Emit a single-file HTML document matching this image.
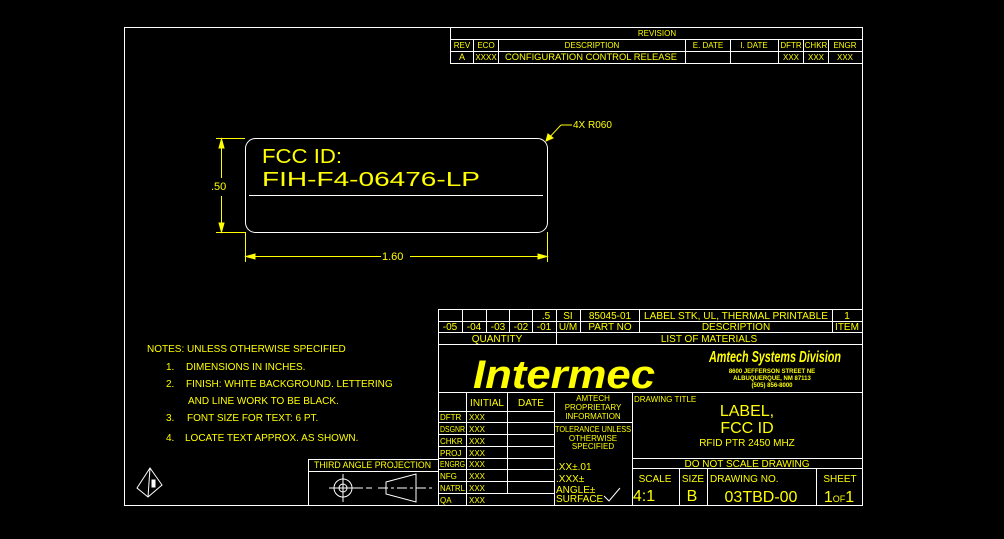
<!DOCTYPE html>
<html><head><meta charset="utf-8"><style>
html,body{margin:0;padding:0;background:#000;}
svg{display:block;}
text{font-family:"Liberation Sans Narrow","Liberation Sans",sans-serif;fill:#ffff00;}
</style></head><body>
<svg width="1004" height="539" viewBox="0 0 1004 539" xmlns="http://www.w3.org/2000/svg">
<rect width="1004" height="539" fill="#000"/>
<g stroke="#fff" stroke-width="1" fill="none">
<rect x="124.5" y="27.5" width="738" height="478"/>
<line x1="450.5" y1="27" x2="450.5" y2="63"/>
<line x1="450" y1="39.5" x2="862" y2="39.5"/>
<line x1="450" y1="51.5" x2="862" y2="51.5"/>
<line x1="450" y1="63.5" x2="862" y2="63.5"/>
<line x1="473.5" y1="39" x2="473.5" y2="63"/>
<line x1="498.5" y1="39" x2="498.5" y2="63"/>
<line x1="685.5" y1="39" x2="685.5" y2="63"/>
<line x1="730.5" y1="39" x2="730.5" y2="63"/>
<line x1="778.5" y1="39" x2="778.5" y2="63"/>
<line x1="803.5" y1="39" x2="803.5" y2="63"/>
<line x1="828.5" y1="39" x2="828.5" y2="63"/>
<line x1="438.5" y1="309" x2="438.5" y2="506"/>
<line x1="438" y1="309.5" x2="862" y2="309.5"/>
<line x1="438" y1="321.5" x2="862" y2="321.5"/>
<line x1="438" y1="332.5" x2="862" y2="332.5"/>
<line x1="438" y1="344.5" x2="862" y2="344.5"/>
<line x1="462.5" y1="309" x2="462.5" y2="332"/>
<line x1="486.5" y1="309" x2="486.5" y2="332"/>
<line x1="509.5" y1="309" x2="509.5" y2="332"/>
<line x1="532.5" y1="309" x2="532.5" y2="332"/>
<line x1="556.5" y1="309" x2="556.5" y2="344"/>
<line x1="580.5" y1="309" x2="580.5" y2="332"/>
<line x1="639.5" y1="309" x2="639.5" y2="332"/>
<line x1="832.5" y1="309" x2="832.5" y2="332"/>
<line x1="438" y1="392.5" x2="862" y2="392.5"/>
<line x1="466.5" y1="392" x2="466.5" y2="506"/>
<line x1="507.5" y1="392" x2="507.5" y2="493"/>
<line x1="554.5" y1="392" x2="554.5" y2="506"/>
<line x1="632.5" y1="392" x2="632.5" y2="506"/>
<line x1="438" y1="411.5" x2="554" y2="411.5"/>
<line x1="438" y1="422.5" x2="554" y2="422.5"/>
<line x1="438" y1="434.5" x2="554" y2="434.5"/>
<line x1="438" y1="446.5" x2="554" y2="446.5"/>
<line x1="438" y1="458.5" x2="554" y2="458.5"/>
<line x1="438" y1="469.5" x2="554" y2="469.5"/>
<line x1="438" y1="481.5" x2="554" y2="481.5"/>
<line x1="438" y1="493.5" x2="554" y2="493.5"/>
<line x1="554" y1="422.5" x2="632" y2="422.5"/>
<line x1="632" y1="458.5" x2="862" y2="458.5"/>
<line x1="632" y1="468.5" x2="862" y2="468.5"/>
<line x1="679.5" y1="468" x2="679.5" y2="506"/>
<line x1="707.5" y1="468" x2="707.5" y2="506"/>
<line x1="816.5" y1="468" x2="816.5" y2="506"/>
<rect x="308.5" y="459.5" width="130" height="46"/>
<line x1="308" y1="471.5" x2="438" y2="471.5"/>
<circle cx="343" cy="488" r="9"/>
<circle cx="343" cy="488" r="4"/>
<line x1="329" y1="488" x2="357" y2="488"/>
<line x1="343" y1="474" x2="343" y2="502"/>
<line x1="357" y1="488" x2="375" y2="488" stroke-dasharray="6 3"/>
<polygon points="386,482 416,474 416,502 386,494"/>
<line x1="378" y1="488" x2="432" y2="488" stroke-dasharray="10 3 3 3"/>
<polygon points="137,488 150,468 162,485 148,497"/>
<line x1="150" y1="468" x2="148" y2="497"/>
<rect x="152" y="480" width="3" height="7" fill="#fff"/>
<rect x="245.5" y="138.5" width="302" height="94" rx="10"/>
<line x1="249" y1="195.5" x2="543" y2="195.5"/>
</g>
<g stroke="#ffff00" stroke-width="1" fill="none">
<line x1="216" y1="138.5" x2="245" y2="138.5"/>
<line x1="216" y1="232.5" x2="245" y2="232.5"/>
<line x1="221.5" y1="139" x2="221.5" y2="178"/>
<line x1="221.5" y1="196" x2="221.5" y2="232"/>
<polygon points="221.5,139 219,148 224,148" fill="#ff0"/>
<polygon points="221.5,232 219,223 224,223" fill="#ff0"/>
<line x1="245.5" y1="232" x2="245.5" y2="262"/>
<line x1="547.5" y1="232" x2="547.5" y2="262"/>
<line x1="246" y1="256.5" x2="381" y2="256.5"/>
<line x1="410" y1="256.5" x2="547" y2="256.5"/>
<polygon points="246,256.5 255,254 255,259" fill="#ff0"/>
<polygon points="547,256.5 538,254 538,259" fill="#ff0"/>
<line x1="546" y1="141" x2="561" y2="125"/>
<line x1="561" y1="125" x2="572" y2="125"/>
<polygon points="546,141 548,134 553,138" fill="#ff0"/>
</g>
<text x="262" y="163" font-size="20" textLength="80" lengthAdjust="spacingAndGlyphs">FCC ID:</text>
<text x="262" y="186" font-size="20" textLength="218" lengthAdjust="spacingAndGlyphs">FIH-F4-06476-LP</text>
<text x="211" y="190" font-size="11">.50</text>
<text x="382" y="260" font-size="11">1.60</text>
<text x="573" y="128" font-size="10">4X R060</text>
<g font-size="8">
<text x="657" y="36" text-anchor="middle">REVISION</text>
<text x="462" y="48" text-anchor="middle">REV</text>
<text x="486" y="48" text-anchor="middle">ECO</text>
<text x="592" y="48" text-anchor="middle">DESCRIPTION</text>
<text x="708" y="48" text-anchor="middle">E. DATE</text>
<text x="754" y="48" text-anchor="middle">I. DATE</text>
<text x="791" y="48" text-anchor="middle">DFTR</text>
<text x="816" y="48" text-anchor="middle">CHKR</text>
<text x="845" y="48" text-anchor="middle">ENGR</text>
<text x="462" y="60" text-anchor="middle" font-size="9">A</text>
<text x="486" y="60" text-anchor="middle">XXXX</text>
<text x="591" y="60" text-anchor="middle" font-size="9" textLength="172" lengthAdjust="spacingAndGlyphs">CONFIGURATION CONTROL RELEASE</text>
<text x="791" y="60" text-anchor="middle">XXX</text>
<text x="816" y="60" text-anchor="middle">XXX</text>
<text x="845" y="60" text-anchor="middle">XXX</text>
</g>
<g font-size="10">
<text x="546" y="319" text-anchor="middle">.5</text>
<text x="568" y="319" text-anchor="middle">SI</text>
<text x="610" y="319" text-anchor="middle">85045-01</text>
<text x="736" y="319" text-anchor="middle" textLength="184" lengthAdjust="spacingAndGlyphs">LABEL STK, UL, THERMAL PRINTABLE</text>
<text x="847" y="319" text-anchor="middle">1</text>
<text x="450" y="330" text-anchor="middle">-05</text>
<text x="474" y="330" text-anchor="middle">-04</text>
<text x="498" y="330" text-anchor="middle">-03</text>
<text x="521" y="330" text-anchor="middle">-02</text>
<text x="544" y="330" text-anchor="middle">-01</text>
<text x="568" y="330" text-anchor="middle">U/M</text>
<text x="610" y="330" text-anchor="middle">PART NO</text>
<text x="736" y="330" text-anchor="middle">DESCRIPTION</text>
<text x="847" y="330" text-anchor="middle">ITEM</text>
<text x="497" y="342" text-anchor="middle">QUANTITY</text>
<text x="709" y="342" text-anchor="middle">LIST OF MATERIALS</text>
</g>
<text x="473" y="388" font-size="40" font-weight="bold" font-style="italic" font-family="Liberation Sans" textLength="182" lengthAdjust="spacingAndGlyphs">Intermec</text>
<text x="709" y="362" font-size="16" font-weight="bold" font-style="italic" textLength="132" lengthAdjust="spacingAndGlyphs">Amtech Systems Division</text>
<g font-size="6" font-weight="bold" text-anchor="middle">
<text x="772" y="373">8600 JEFFERSON STREET NE</text>
<text x="772" y="380">ALBUQUERQUE, NM 87113</text>
<text x="772" y="387">(505) 856-8000</text>
</g>
<g font-size="10">
<text x="487" y="406" text-anchor="middle">INITIAL</text>
<text x="531" y="406" text-anchor="middle">DATE</text>
</g>
<g font-size="8">
<text x="440" y="420">DFTR</text><text x="469" y="420">XXX</text>
<text x="440" y="432" textLength="25" lengthAdjust="spacingAndGlyphs">DSGNR</text><text x="469" y="432">XXX</text>
<text x="440" y="444">CHKR</text><text x="469" y="444">XXX</text>
<text x="440" y="456">PROJ</text><text x="469" y="456">XXX</text>
<text x="440" y="467" textLength="25" lengthAdjust="spacingAndGlyphs">ENGRG</text><text x="469" y="467">XXX</text>
<text x="440" y="479">NFG</text><text x="469" y="479">XXX</text>
<text x="440" y="491" textLength="25" lengthAdjust="spacingAndGlyphs">NATRL</text><text x="469" y="491">XXX</text>
<text x="440" y="503">QA</text><text x="469" y="503">XXX</text>
<text x="593" y="401" text-anchor="middle">AMTECH</text>
<text x="593" y="410" text-anchor="middle">PROPRIETARY</text>
<text x="593" y="419" text-anchor="middle">INFORMATION</text>
<text x="593" y="432" text-anchor="middle" textLength="76" lengthAdjust="spacingAndGlyphs">TOLERANCE UNLESS</text>
<text x="593" y="441" text-anchor="middle">OTHERWISE</text>
<text x="593" y="449" text-anchor="middle">SPECIFIED</text>
<text x="634" y="402">DRAWING TITLE</text>
</g>
<g font-size="10">
<text x="556" y="470">.XX±.01</text>
<text x="556" y="482">.XXX±</text>
<text x="556" y="493">ANGLE±</text>
<text x="556" y="502">SURFACE</text>
</g>
<polyline points="604,496 609,501 620,488" stroke="#fff" fill="none"/>
<text x="747" y="416" font-size="16" text-anchor="middle">LABEL,</text>
<text x="747" y="433" font-size="16" text-anchor="middle">FCC ID</text>
<text x="747" y="446" font-size="10" text-anchor="middle">RFID PTR 2450 MHZ</text>
<text x="747" y="467" font-size="10" text-anchor="middle">DO NOT SCALE DRAWING</text>
<text x="655" y="482" font-size="10" text-anchor="middle">SCALE</text>
<text x="644" y="501" font-size="16" text-anchor="middle">4:1</text>
<text x="693" y="482" font-size="10" text-anchor="middle">SIZE</text>
<text x="692" y="501" font-size="16" text-anchor="middle">B</text>
<text x="710" y="482" font-size="10">DRAWING NO.</text>
<text x="761" y="502" font-size="16" text-anchor="middle">03TBD-00</text>
<text x="840" y="482" font-size="10" text-anchor="middle">SHEET</text>
<text x="839" y="502" font-size="16" text-anchor="middle">1<tspan font-size="9">OF</tspan>1</text>
<text x="314" y="468" font-size="9" textLength="117" lengthAdjust="spacingAndGlyphs">THIRD ANGLE PROJECTION</text>
<g font-size="10" xml:space="preserve">
<text x="147" y="352">NOTES: UNLESS OTHERWISE SPECIFIED</text>
<text x="166" y="370">1.</text><text x="186" y="370">DIMENSIONS IN INCHES.</text>
<text x="166" y="387">2.</text><text x="186" y="387">FINISH:   WHITE BACKGROUND.   LETTERING</text>
<text x="188" y="404">AND LINE WORK TO BE BLACK.</text>
<text x="166" y="421">3.</text><text x="187" y="421">FONT SIZE FOR TEXT:  6 PT.</text>
<text x="166" y="441">4.</text><text x="185" y="441">LOCATE TEXT APPROX. AS SHOWN.</text>
</g>
</svg>
</body></html>
